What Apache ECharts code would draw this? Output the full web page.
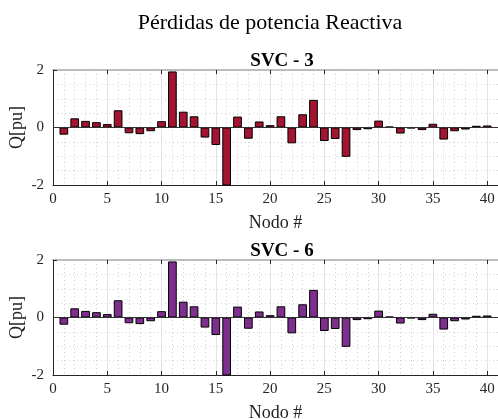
<!DOCTYPE html>
<html>
<head>
<meta charset="utf-8">
<script src="https://cdn.jsdelivr.net/npm/echarts@6/dist/echarts.min.js"></script>
<style>
  html, body { margin: 0; padding: 0; background: #fff; }
  #chart { width: 498px; height: 419px; }
</style>
</head>
<body>
<div id="chart"></div>
<script>
// Reactive power losses per node for two SVC placements
const nodes = [1,2,3,4,5,6,7,8,9,10,11,12,13,14,15,16,17,18,19,20,
               21,22,23,24,25,26,27,28,29,30,31,32,33,34,35,36,37,38,39,40];
const svc3 = [-0.25,0.32,0.23,0.185,0.12,0.6,-0.2,-0.23,-0.13,0.22,
              1.95,0.55,0.39,-0.35,-0.61,-2.3,0.38,-0.39,0.21,0.08,
              0.39,-0.55,0.46,0.96,-0.47,-0.4,-1.02,-0.09,-0.06,0.24,
              0.03,-0.21,-0.03,-0.09,0.13,-0.42,-0.13,-0.07,0.06,0.07];
const svc6 = [-0.25,0.32,0.23,0.185,0.12,0.6,-0.2,-0.23,-0.13,0.22,
              1.95,0.55,0.39,-0.35,-0.61,-2.3,0.38,-0.39,0.21,0.08,
              0.39,-0.55,0.46,0.96,-0.47,-0.4,-1.02,-0.09,-0.06,0.24,
              0.03,-0.21,-0.03,-0.09,0.13,-0.42,-0.13,-0.07,0.06,0.07];
const xTicks = { min: 0, max: 41, step: 5 };
const yTicks = { min: -2, max: 2, step: 2 };

const panels = [
  { title: 'SVC - 3', values: svc3, color: '#A2142F', top: 70 },
  { title: 'SVC - 6', values: svc6, color: '#7E2F8E', top: 260 }
];

const FONT = '"Liberation Serif", "Times New Roman", serif';
const PLOT_LEFT = 53, PLOT_W = 445, PLOT_H = 115;

const chart = echarts.init(document.getElementById('chart'));

const option = {
  backgroundColor: '#fff',
  animation: false,
  title: [{
    text: 'Pérdidas de potencia Reactiva',
    left: 265, top: 7, textAlign: 'center',
    textStyle: { fontFamily: FONT, fontSize: 22, fontWeight: 'normal', color: '#000' }
  }],
  grid: [], xAxis: [], yAxis: [], series: []
};

panels.forEach((p, i) => {
  option.title.push({
    text: p.title,
    left: 277, top: p.top - 23, textAlign: 'center',
    textStyle: { fontFamily: FONT, fontSize: 19, fontWeight: 'bold', color: '#000' }
  });
  option.grid.push({
    left: PLOT_LEFT, top: p.top, width: PLOT_W, height: PLOT_H,
    containLabel: false, outerBoundsMode: 'none'
  });
  const xBase = i * 3;
  // unit dotted grid
  option.xAxis.push({
    type: 'value', gridIndex: i, position: 'bottom',
    min: xTicks.min, max: xTicks.max, interval: 1,
    axisLine: { show: false }, axisTick: { show: false }, axisLabel: { show: false },
    splitLine: { show: true, lineStyle: { color: '#d0d0d0', type: [1, 3], width: 1 } }
  });
  // main x axis
  option.xAxis.push({
    type: 'value', gridIndex: i, position: 'bottom',
    min: xTicks.min, max: xTicks.max, interval: xTicks.step,
    name: 'Nodo #', nameLocation: 'middle', nameGap: 29, nameMoveOverlap: false,
    nameTextStyle: { fontFamily: FONT, fontSize: 18, color: '#222' },
    axisLine: { show: true, lineStyle: { color: '#262626', width: 1 } },
    axisTick: { show: true, inside: true, length: 4, lineStyle: { color: '#262626' } },
    axisLabel: { show: true, margin: 7, showMaxLabel: false,
      fontFamily: FONT, fontSize: 15, color: '#262626' },
    splitLine: { show: true, lineStyle: { color: '#e3e3e3', width: 1 } }
  });
  // box top edge
  option.xAxis.push({
    type: 'value', gridIndex: i, position: 'top',
    min: xTicks.min, max: xTicks.max, interval: xTicks.step,
    axisLine: { show: true, lineStyle: { color: '#a8a8a8', width: 1.5 } },
    axisTick: { show: true, inside: true, length: 4, lineStyle: { color: '#262626' } },
    axisLabel: { show: false }, splitLine: { show: false }
  });
  option.yAxis.push({
    type: 'value', gridIndex: i, position: 'left',
    min: yTicks.min, max: yTicks.max, interval: yTicks.step,
    name: 'Q[pu]', nameLocation: 'middle', nameGap: 27, nameMoveOverlap: false,
    nameTextStyle: { fontFamily: FONT, fontSize: 18, color: '#222' },
    axisLine: { show: true, lineStyle: { color: '#262626', width: 1 } },
    axisTick: { show: true, inside: true, length: 4, lineStyle: { color: '#262626' } },
    axisLabel: { show: true, margin: 9, fontFamily: FONT, fontSize: 15, color: '#262626' },
    splitLine: { show: false },
    minorTick: { show: false, splitNumber: 4 },
    minorSplitLine: { show: true, lineStyle: { color: '#d0d0d0', type: [1, 3], width: 1 } }
  });
  option.series.push({
    type: 'bar',
    xAxisIndex: xBase + 1, yAxisIndex: i,
    data: nodes.map((n, k) => [n, p.values[k]]),
    barWidth: 8.7,
    clip: true,
    itemStyle: { color: p.color, borderColor: '#000', borderWidth: 1 },
    markLine: {
      silent: true, symbol: 'none', label: { show: false },
      lineStyle: { color: '#333', type: 'solid', width: 1 },
      data: [{ yAxis: 0 }]
    }
  });
});

chart.setOption(option);
</script>
</body>
</html>
